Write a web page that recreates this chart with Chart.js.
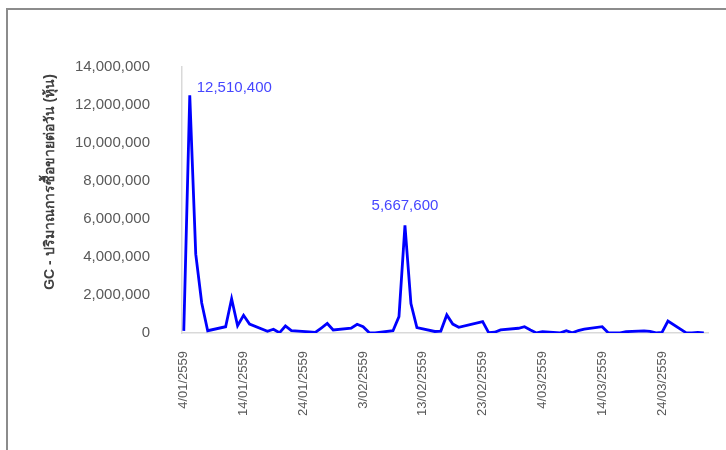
<!DOCTYPE html>
<html>
<head>
<meta charset="utf-8">
<script src="https://cdn.jsdelivr.net/npm/chart.js@4.4.1/dist/chart.umd.min.js"></script>
<style>
  html, body { margin: 0; padding: 0; background: #fff; }
  #wrap { position: relative; width: 726px; height: 450px; }
  #frame { position: absolute; left: 6px; top: 8px; right: 0; bottom: 0;
           border-left: 2px solid #8c8c8c; border-top: 2px solid #8c8c8c; pointer-events: none; }
</style>
</head>
<body>
<div id="wrap">
  <canvas id="canvas"></canvas>
  <div id="frame"></div>
</div>
<script>
// trading days (Thai Buddhist year) and daily volume of GC shares
var tradeDates = [
  '4/01/2559', '5/01/2559', '6/01/2559', '7/01/2559', '8/01/2559',
  '11/01/2559', '12/01/2559', '13/01/2559', '14/01/2559', '15/01/2559',
  '18/01/2559', '19/01/2559', '20/01/2559', '21/01/2559', '22/01/2559',
  '25/01/2559', '26/01/2559', '27/01/2559', '28/01/2559', '29/01/2559',
  '1/02/2559', '2/02/2559', '3/02/2559', '4/02/2559', '5/02/2559',
  '8/02/2559', '9/02/2559', '10/02/2559', '11/02/2559', '12/02/2559',
  '15/02/2559', '16/02/2559', '17/02/2559', '18/02/2559', '19/02/2559',
  '23/02/2559', '24/02/2559', '25/02/2559', '26/02/2559',
  '29/02/2559', '1/03/2559', '2/03/2559', '3/03/2559', '4/03/2559',
  '7/03/2559', '8/03/2559', '9/03/2559', '10/03/2559', '11/03/2559',
  '14/03/2559', '15/03/2559', '16/03/2559', '17/03/2559', '18/03/2559',
  '21/03/2559', '22/03/2559', '23/03/2559', '24/03/2559', '25/03/2559',
  '28/03/2559', '29/03/2559', '30/03/2559', '31/03/2559'
];
var volumes = [
  110000, 12510400, 4150000, 1580000, 120000,
  330000, 1800000, 380000, 930000, 470000,
  90000, 200000, 10000, 370000, 120000,
  60000, 30000, 260000, 500000, 160000,
  250000, 460000, 330000, 20000, 5000,
  120000, 860000, 5667600, 1550000, 280000,
  80000, 100000, 950000, 470000, 300000,
  600000, 20000, 40000, 160000,
  250000, 330000, 160000, 5000, 70000,
  5000, 120000, 10000, 130000, 200000,
  330000, 10000, 10000, 5000, 70000,
  110000, 80000, 10000, 30000, 630000,
  20000, 10000, 30000, 5000
];
var xTickLabels = ['4/01/2559', '14/01/2559', '24/01/2559', '3/02/2559', '13/02/2559',
                   '23/02/2559', '4/03/2559', '14/03/2559', '24/03/2559'];
var yTicks = [0, 2000000, 4000000, 6000000, 8000000, 10000000, 12000000, 14000000];
var labelledDates = ['5/01/2559', '10/02/2559'];
var yTitle = 'GC - ปริมาณการซื้อขายต่อวัน (หุ้น)';

// day number since the first trading day
var firstDay = toDay(tradeDates[0]);
function toDay(s) {
  var p = s.split('/');
  return Date.UTC(+p[2] - 543, +p[1] - 1, +p[0]) / 86400000;
}
function dayLabel(v) {
  var d = new Date((firstDay + v) * 86400000);
  var m = d.getUTCMonth() + 1;
  return d.getUTCDate() + '/' + (m < 10 ? '0' + m : m) + '/' + (d.getUTCFullYear() + 543);
}

var points = tradeDates.map(function(s, i) {
  return { x: toDay(s) - firstDay, y: volumes[i] };
});
var tickDays = xTickLabels.map(function(s) { return toDay(s) - firstDay; });

// value labels on the two peaks + the y axis title (sits a bit above centre, like excel)
Chart.register({
  id: 'peakLabels',
  afterDatasetsDraw: function(chart) {
    var ctx = chart.ctx;
    var meta = chart.getDatasetMeta(0);
    ctx.save();
    ctx.fillStyle = '#4646ff';
    ctx.font = '15px "Liberation Sans", Arial, sans-serif';
    ctx.textBaseline = 'middle';
    labelledDates.forEach(function(s, k) {
      var i = tradeDates.indexOf(s);
      var el = meta.data[i];
      var txt = volumes[i].toLocaleString('en-US');
      if (k === 0) {
        ctx.textAlign = 'left';
        ctx.fillText(txt, el.x + 7, el.y - 7);
      } else {
        ctx.textAlign = 'center';
        ctx.fillText(txt, el.x, el.y - 19);
      }
    });

    var area = chart.chartArea;
    ctx.translate(50, (area.top + area.bottom) / 2 - 18);
    ctx.rotate(-Math.PI / 2);
    ctx.fillStyle = '#404040';
    ctx.font = 'bold 14px "Liberation Sans", "Noto Sans", sans-serif';
    ctx.textAlign = 'center';
    ctx.fillText(yTitle, 0, 0);
    ctx.restore();
  }
});

window.onload = function() {
  var ctx = document.getElementById('canvas').getContext('2d');
  window.myLine = new Chart(ctx, {
    type: 'line',
    data: {
      datasets: [{
        label: 'GC',
        data: points,
        borderColor: '#0000ff',
        borderWidth: 2.8,
        pointRadius: 0,
        tension: 0,
        fill: false
      }]
    },
    options: {
      responsive: true,
      maintainAspectRatio: false,
      animation: false,
      layout: { padding: { left: 0, top: 67, right: 18, bottom: 0 } },
      plugins: { legend: { display: false }, tooltip: { enabled: false } },
      scales: {
        x: {
          type: 'linear',
          min: -0.3,
          max: 87.7,
          grid: { display: false },
          border: { display: true, color: '#d9d9d9', width: 1.5 },
          afterBuildTicks: function(scale) {
            scale.ticks = tickDays.map(function(v) { return { value: v }; });
          },
          afterFit: function(scale) { scale.height = 117; },
          ticks: {
            autoSkip: false,
            minRotation: 90,
            maxRotation: 90,
            padding: 10,
            color: '#595959',
            font: { family: '"Liberation Sans", Arial, sans-serif', size: 13 },
            callback: function(v) { return dayLabel(v); }
          }
        },
        y: {
          min: 0,
          max: 14000000,
          grid: { display: false },
          border: { display: true, color: '#d9d9d9', width: 1.5 },
          afterBuildTicks: function(scale) {
            scale.ticks = yTicks.map(function(v) { return { value: v }; });
          },
          afterFit: function(scale) { scale.width = 182; },
          ticks: {
            padding: 24,
            color: '#595959',
            font: { family: '"Liberation Sans", Arial, sans-serif', size: 15 },
            callback: function(v) { return v.toLocaleString('en-US'); }
          }
        }
      }
    }
  });
};
</script>
</body>
</html>
